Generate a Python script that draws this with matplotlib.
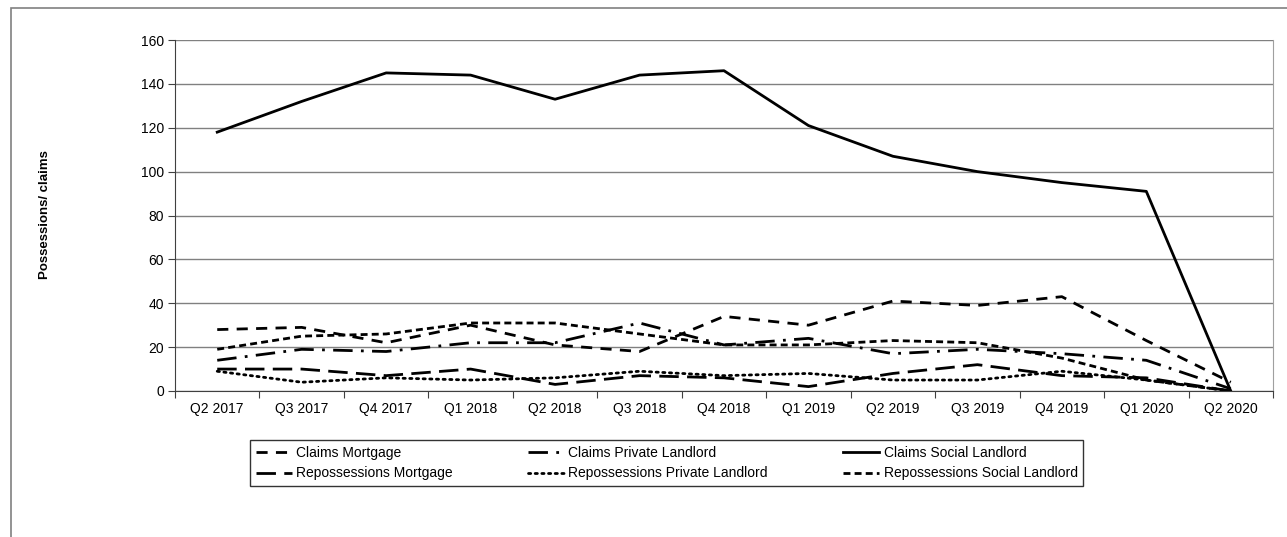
import matplotlib.pyplot as plt
from matplotlib.patches import Rectangle
import numpy as np

plt.rcParams['font.family'] = ['Liberation Sans', 'DejaVu Sans']

quarters = ["Q2 2017", "Q3 2017", "Q4 2017", "Q1 2018", "Q2 2018", "Q3 2018", "Q4 2018",
            "Q1 2019", "Q2 2019", "Q3 2019", "Q4 2019", "Q1 2020", "Q2 2020"]
claims_mortgage = [28, 29, 22, 30, 21, 18, 34, 30, 41, 39, 43, 23, 4]
claims_private = [14, 19, 18, 22, 22, 31, 21, 24, 17, 19, 17, 14, 1]
claims_social = [118, 132, 145, 144, 133, 144, 146, 121, 107, 100, 95, 91, 0]
repo_mortgage = [10, 10, 7, 10, 3, 7, 6, 2, 8, 12, 7, 6, 0]
repo_private = [9, 4, 6, 5, 6, 9, 7, 8, 5, 5, 9, 5, 0]
repo_social = [19, 25, 26, 31, 31, 26, 21, 21, 23, 22, 15, 5, 0]

fig = plt.figure(figsize=(12.87, 5.37), dpi=100)
ax = fig.add_axes([175 / 1287, 1 - 391 / 537, (1273 - 175) / 1287, (391 - 40) / 537])

x = np.arange(len(quarters)) + 0.5
lw = 2.0
h_cm, = ax.plot(x, claims_mortgage, color="black", lw=lw, dashes=(4, 3), label="Claims Mortgage")
h_cp, = ax.plot(x, claims_private, color="black", lw=lw, dashes=(7, 3, 1, 3), label="Claims Private Landlord")
h_cs, = ax.plot(x, claims_social, color="black", lw=lw, label="Claims Social Landlord")
h_rm, = ax.plot(x, repo_mortgage, color="black", lw=lw, dashes=(7, 3), label="Repossessions Mortgage")
h_rp, = ax.plot(x, repo_private, color="black", lw=lw, dashes=(0.8, 1.6), dash_capstyle="round",
                label="Repossessions Private Landlord")
h_rs, = ax.plot(x, repo_social, color="black", lw=lw, dashes=(2.5, 1.5), label="Repossessions Social Landlord")

ax.set_xlim(0, len(quarters))
ax.set_ylim(0, 160)
ax.set_yticks(np.arange(0, 161, 20))
ax.set_xticks(np.arange(0, len(quarters) + 1))
ax.set_xticklabels([])
ax.set_xticks(x, minor=True)
ax.set_xticklabels(quarters, minor=True)
ax.tick_params(axis="x", which="minor", length=0, pad=8, labelsize=10)
ax.tick_params(axis="x", which="major", length=5, color="#404040")
ax.tick_params(axis="y", length=5, color="#404040", labelsize=10, pad=3)
ax.grid(axis="y", color="#808080", lw=1)
ax.set_axisbelow(True)
for s in ["top"]:
    ax.spines[s].set_visible(False)
ax.spines["right"].set_color("#a0a0a0")
ax.spines["left"].set_color("#404040")
ax.spines["bottom"].set_color("#404040")

fig.text(45 / 1287, 1 - 215 / 537, "Possessions/ claims", rotation=90, ha="center", va="center",
         fontsize=9.5, fontweight="bold")

handles = [h_cm, h_rm, h_cp, h_rp, h_cs, h_rs]
leg = fig.legend(handles=handles, labels=[h.get_label() for h in handles], ncol=3,
                 bbox_to_anchor=(243 / 1287, 1 - 493 / 537, (1090 - 243) / 1287, 50 / 537),
                 loc="lower left", mode="expand", fontsize=10, frameon=True, fancybox=False,
                 handlelength=2.6, handletextpad=0.3, borderpad=0.4, labelspacing=0.5)
leg.get_frame().set_edgecolor("black")
leg.get_frame().set_linewidth(1)

fig.patches.append(Rectangle((11 / 1287, -0.05), 1.1, 1 - 8 / 537 + 0.05, transform=fig.transFigure,
                             fill=False, edgecolor="#808080", lw=1.2))

fig.savefig("out.png", dpi=100)
